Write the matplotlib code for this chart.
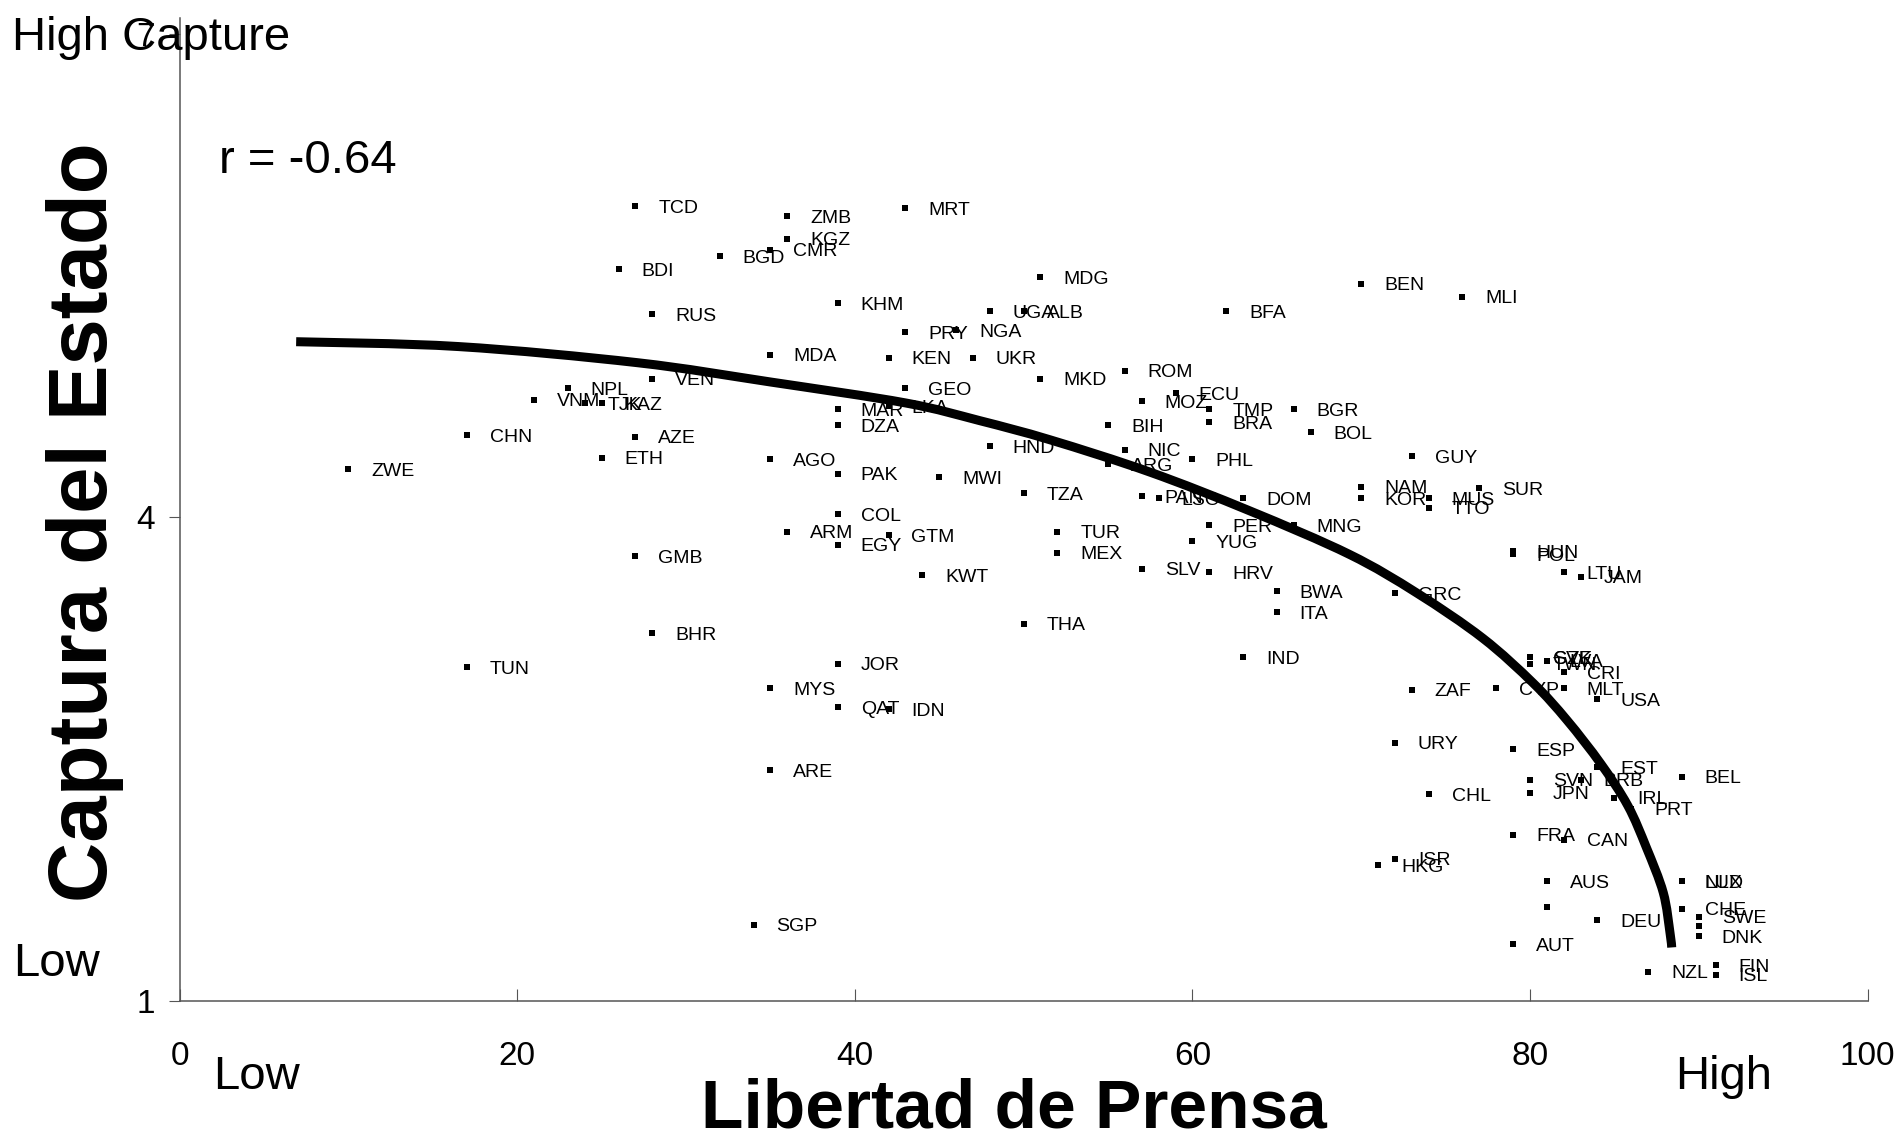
import matplotlib
matplotlib.use("Agg")
import matplotlib.pyplot as plt
from matplotlib import font_manager
from matplotlib.path import Path
from matplotlib.patches import PathPatch

# ---- data ----
codes = [
    "TCD", "ZMB", "KGZ", "CMR", "BGD", "MRT", "BDI", "RUS", "KHM", "MDG",
    "UGA", "ALB", "PRY", "NGA", "BFA", "BEN", "MLI", "MDA", "KEN", "UKR",
    "MKD", "ROM", "GEO", "MOZ", "ECU", "TMP", "BRA", "BGR", "BOL", "MAR",
    "LKA", "DZA", "VEN", "NPL", "VNM", "TJK", "KAZ", "CHN", "AZE", "ETH",
    "ZWE", "AGO", "PAK", "MWI", "HND", "BIH", "NIC", "ARG", "PHL", "TZA",
    "PAN", "LSO", "DOM", "NAM", "KOR", "MUS", "TTO", "SUR", "GUY", "COL",
    "ARM", "EGY", "GTM", "TUR", "MEX", "KWT", "SLV", "HRV", "PER", "YUG",
    "MNG", "BWA", "ITA", "GRC", "HUN", "POL", "LTU", "JAM", "GMB", "BHR",
    "TUN", "THA", "IND", "JOR", "MYS", "QAT", "IDN", "ARE", "SGP", "SVK",
    "CZE", "TWN", "LVA", "CRI", "MLT", "USA", "CYP", "ZAF", "URY", "ESP",
    "EST", "BRB", "BEL", "SVN", "JPN", "IRL", "PRT", "CHL", "FRA", "CAN",
    "ISR", "HKG", "AUS", "", "NLD", "LUX", "CHE", "SWE", "", "DNK",
    "DEU", "AUT", "NZL", "FIN", "ISL",
]
press_freedom = [
    27, 36, 36, 35, 32, 43, 26, 28, 39, 51,
    48, 50, 43, 46, 62, 70, 76, 35, 42, 47,
    51, 56, 43, 57, 59, 61, 61, 66, 67, 39,
    42, 39, 28, 23, 21, 24, 25, 17, 27, 25,
    10, 35, 39, 45, 48, 55, 56, 55, 60, 50,
    57, 58, 63, 70, 70, 74, 74, 77, 73, 39,
    36, 39, 42, 52, 52, 44, 57, 61, 61, 60,
    66, 65, 65, 72, 79, 79, 82, 83, 27, 28,
    17, 50, 63, 39, 35, 39, 42, 35, 34, 80,
    80, 80, 81, 82, 82, 84, 78, 73, 72, 79,
    84, 83, 89, 80, 80, 85, 86, 74, 79, 82,
    72, 71, 81, 81, 89, 89, 89, 90, 90, 90,
    84, 79, 87, 91, 91,
]
state_capture = [
    5.93, 5.87, 5.73, 5.66, 5.62, 5.92, 5.54, 5.26, 5.33, 5.49,
    5.28, 5.28, 5.15, 5.16, 5.28, 5.45, 5.37, 5.01, 4.99, 4.99,
    4.86, 4.91, 4.80, 4.72, 4.77, 4.67, 4.59, 4.67, 4.53, 4.67,
    4.69, 4.57, 4.86, 4.80, 4.73, 4.71, 4.71, 4.51, 4.50, 4.37,
    4.30, 4.36, 4.27, 4.25, 4.44, 4.57, 4.42, 4.33, 4.36, 4.15,
    4.13, 4.12, 4.12, 4.19, 4.12, 4.12, 4.06, 4.18, 4.38, 4.02,
    3.91, 3.83, 3.89, 3.91, 3.78, 3.64, 3.68, 3.66, 3.95, 3.85,
    3.95, 3.54, 3.41, 3.53, 3.79, 3.77, 3.66, 3.63, 3.76, 3.28,
    3.07, 3.34, 3.13, 3.09, 2.94, 2.82, 2.81, 2.43, 1.47, 3.13,
    3.13, 3.09, 3.11, 3.04, 2.94, 2.87, 2.94, 2.93, 2.60, 2.56,
    2.45, 2.37, 2.39, 2.37, 2.29, 2.26, 2.19, 2.28, 2.03, 2.00,
    1.88, 1.84, 1.74, 1.58, 1.74, 1.74, 1.57, 1.52, 1.46, 1.40,
    1.50, 1.35, 1.18, 1.22, 1.16,
]

# fitted curve
fit_x = [6.9, 16.5, 27.1, 35.0, 43.0, 47.4, 51.6, 57.5, 63.4, 69.3,
         73.3, 77.2, 80.2, 82.2, 84.2, 85.8, 86.9, 87.9, 88.3, 88.4]
fit_y = [5.09, 5.06, 4.96, 4.84, 4.71, 4.60, 4.48, 4.28, 4.04, 3.77,
         3.53, 3.25, 2.97, 2.74, 2.47, 2.21, 1.95, 1.67, 1.42, 1.33]

x_ticks = [0, 20, 40, 60, 80, 100]
y_ticks = [1, 4, 7]
r_text = "r = -0.64"

# ---- fonts ----
names = {f.name for f in font_manager.fontManager.ttflist}
has_narrow = "Liberation Sans Narrow" in names
NARROW = ["Liberation Sans Narrow", "Liberation Sans"] if has_narrow else ["Liberation Sans"]
REG = ["Liberation Sans", "DejaVu Sans"]
tick_size = 29 if has_narrow else 24
label_size = 16 if has_narrow else 14


def smooth_path(xs, ys):
    # Catmull-Rom through the sampled points, drawn as cubic Bezier segments
    pts = list(zip(xs, ys))
    verts, codes_ = [pts[0]], [Path.MOVETO]
    n = len(pts)
    for i in range(n - 1):
        p0 = pts[max(i - 1, 0)]
        p1, p2 = pts[i], pts[i + 1]
        p3 = pts[min(i + 2, n - 1)]
        c1 = (p1[0] + (p2[0] - p0[0]) / 6, p1[1] + (p2[1] - p0[1]) / 6)
        c2 = (p2[0] - (p3[0] - p1[0]) / 6, p2[1] - (p3[1] - p1[1]) / 6)
        verts += [c1, c2, p2]
        codes_ += [Path.CURVE4] * 3
    return Path(verts, codes_)


W, H = 1904, 1137
fig = plt.figure(figsize=(W / 100, H / 100), dpi=100)
ax = fig.add_axes([179.7 / W, 136.4 / H, 1687.8 / W, 982.7 / H])

ax.add_patch(PathPatch(smooth_path(fit_x, fit_y), facecolor="none",
                       edgecolor="black", lw=6.5, capstyle="butt", zorder=2))
ax.plot(press_freedom, state_capture, "s", color="black", ms=3.8, mew=0, zorder=3)
for c, x, y in zip(codes, press_freedom, state_capture):
    if c:
        ax.annotate(c, (x, y), xytext=(16.5, -1.5), textcoords="offset points",
                    ha="left", va="center", fontsize=label_size, family=NARROW)

ax.set_xlim(0, 100)
ax.set_ylim(1, 7.1)
ax.set_xticks(x_ticks)
ax.set_yticks(y_ticks)
for s in ("top", "right"):
    ax.spines[s].set_visible(False)
for s in ("left", "bottom"):
    ax.spines[s].set_color("#555555")
    ax.spines[s].set_linewidth(1.1)
ax.tick_params(axis="x", direction="in", length=8.5, width=0.8, color="#555555",
               pad=29, labelsize=tick_size)
ax.tick_params(axis="y", direction="out", length=8, width=0.8, color="#555555",
               pad=10, labelsize=tick_size)
for lab in ax.get_xticklabels() + ax.get_yticklabels():
    lab.set_family(NARROW)

# ---- texts around the axes ----
fig.text(0.0063, 0.956, "High Capture", fontsize=34, family=REG, va="baseline")
fig.text(0.115, 0.848, r_text, fontsize=34, family=REG, va="baseline")
fig.text(0.0067, 0.1416, "Low", fontsize=34, family=REG, va="baseline")
fig.text(0.112, 0.042, "Low", fontsize=34, family=REG, va="baseline")
fig.text(0.880, 0.042, "High", fontsize=34, family=REG, va="baseline")
fig.text(0.5326, 0.008, "Libertad de Prensa", fontsize=50, fontweight="bold",
         family=REG, ha="center", va="baseline")
fig.text(0.0447, 0.541, "Captura del Estado", fontsize=60, fontweight="bold",
         family=REG, rotation=90, ha="center", va="center")

fig.savefig("out.png", dpi=100)
